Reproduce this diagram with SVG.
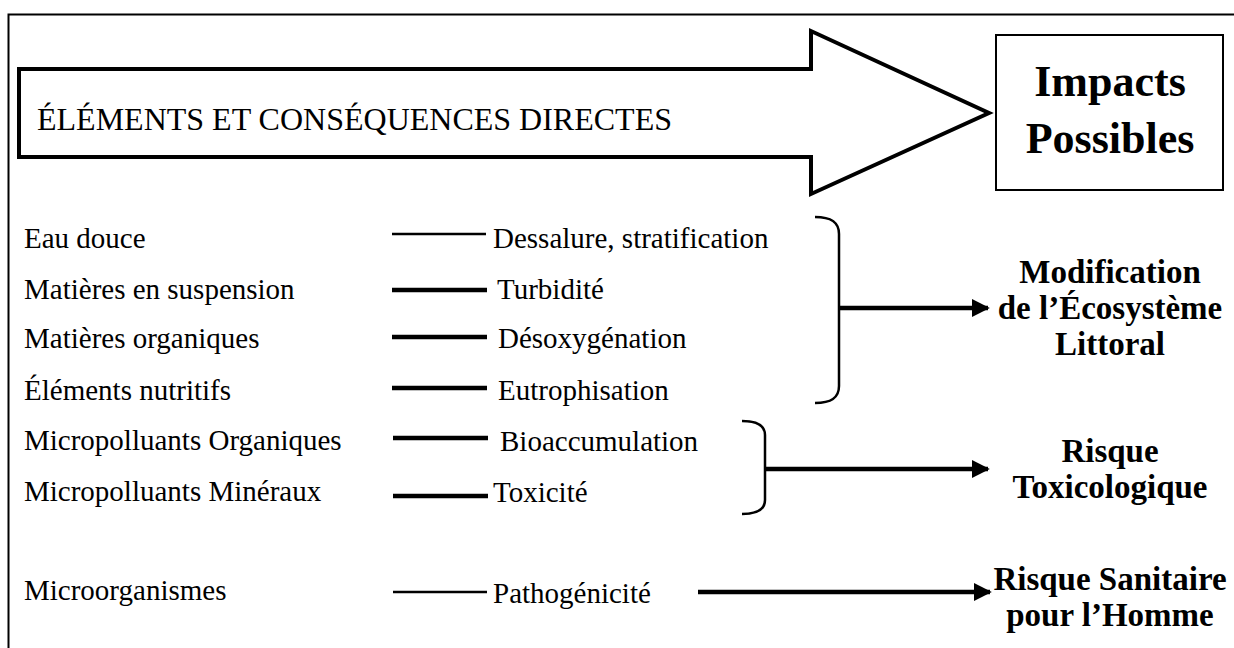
<svg xmlns="http://www.w3.org/2000/svg" width="1234" height="648" viewBox="0 0 1234 648">
<defs>
<marker id="ah" viewBox="0 0 10 10" refX="9" refY="5" markerWidth="4" markerHeight="4" orient="auto" markerUnits="strokeWidth">
<path d="M0,0 L10,5 L0,10 Z" fill="#000"/>
</marker>
<style>
.t{font-family:"Liberation Serif","Times New Roman",serif;font-size:29px;fill:#000}
.b{font-family:"Liberation Serif","Times New Roman",serif;font-weight:bold;font-size:33px;fill:#000;text-anchor:middle}
.lk{stroke:#000;stroke-width:4.5;fill:none}
.thin{stroke-width:2.6}
.br{stroke:#000;stroke-width:2.5;fill:none}
.ar{stroke:#000;stroke-width:4.5;fill:none;marker-end:url(#ah)}
</style>
</defs>
<rect width="1234" height="648" fill="#fff"/>
<g id="frame">
<path d="M8.5,648 L8.5,14.5 L1234,14.5" fill="none" stroke="#000" stroke-width="2"/>
</g>
<g id="header-arrow">
<polygon points="19,69 811,69 811,31 989,113 811,194 811,157 19,157" fill="#fff" stroke="#000" stroke-width="4" stroke-linejoin="miter"/>
<text class="t" x="37" y="130" style="font-size:32px">ÉLÉMENTS ET CONSÉQUENCES DIRECTES</text>
</g>
<g id="impacts">
<rect x="996" y="35" width="227" height="155" fill="#fff" stroke="#000" stroke-width="2"/>
<text class="b" x="1110" y="96" style="font-size:44px">Impacts</text>
<text class="b" x="1110" y="153" style="font-size:44px">Possibles</text>
</g>
<g id="elements">
<text class="t" x="24" y="248">Eau douce</text>
<text class="t" x="24" y="299">Matières en suspension</text>
<text class="t" x="24" y="348">Matières organiques</text>
<text class="t" x="24" y="400">Éléments nutritifs</text>
<text class="t" x="24" y="450">Micropolluants Organiques</text>
<text class="t" x="24" y="501">Micropolluants Minéraux</text>
<text class="t" x="24" y="600">Microorganismes</text>
</g>
<g id="consequences">
<text class="t" x="493" y="248">Dessalure, stratification</text>
<text class="t" x="497" y="299">Turbidité</text>
<text class="t" x="498" y="348">Désoxygénation</text>
<text class="t" x="498" y="400">Eutrophisation</text>
<text class="t" x="500" y="451">Bioaccumulation</text>
<text class="t" x="493" y="502">Toxicité</text>
<text class="t" x="493" y="603">Pathogénicité</text>
</g>
<g id="impact-ecosystem">
<text class="b" x="1110" y="283">Modification</text>
<text class="b" x="1110" y="319">de l’Écosystème</text>
<text class="b" x="1110" y="355">Littoral</text>
</g>
<g id="impact-toxico">
<text class="b" x="1110" y="462">Risque</text>
<text class="b" x="1110" y="498">Toxicologique</text>
</g>
<g id="impact-sanitaire">
<text class="b" x="1110" y="590">Risque Sanitaire</text>
<text class="b" x="1110" y="626">pour l’Homme</text>
</g>
<g id="connectors">
<line class="lk thin" x1="392" y1="234" x2="486" y2="234"/>
<line class="lk" x1="392" y1="290" x2="487" y2="290"/>
<line class="lk" x1="392" y1="337" x2="487" y2="337"/>
<line class="lk" x1="392" y1="388" x2="487" y2="388"/>
<line class="lk" x1="393" y1="438" x2="488" y2="438"/>
<line class="lk" x1="393" y1="496" x2="488" y2="496"/>
<line class="lk thin" x1="393" y1="592" x2="487" y2="592"/>
<path class="br" d="M815,217 C831,217 839,222 839,234 L839,386 C839,398 831,403 815,403"/>
<path class="br" d="M742,421 C757,421 765,425 765,435 L765,500 C765,510 757,514 742,514"/>
<line class="ar" x1="839" y1="308" x2="988" y2="308"/>
<line class="ar" x1="765" y1="469" x2="988" y2="469"/>
<line class="ar" x1="698" y1="592" x2="990" y2="592"/>
</g>
</svg>
